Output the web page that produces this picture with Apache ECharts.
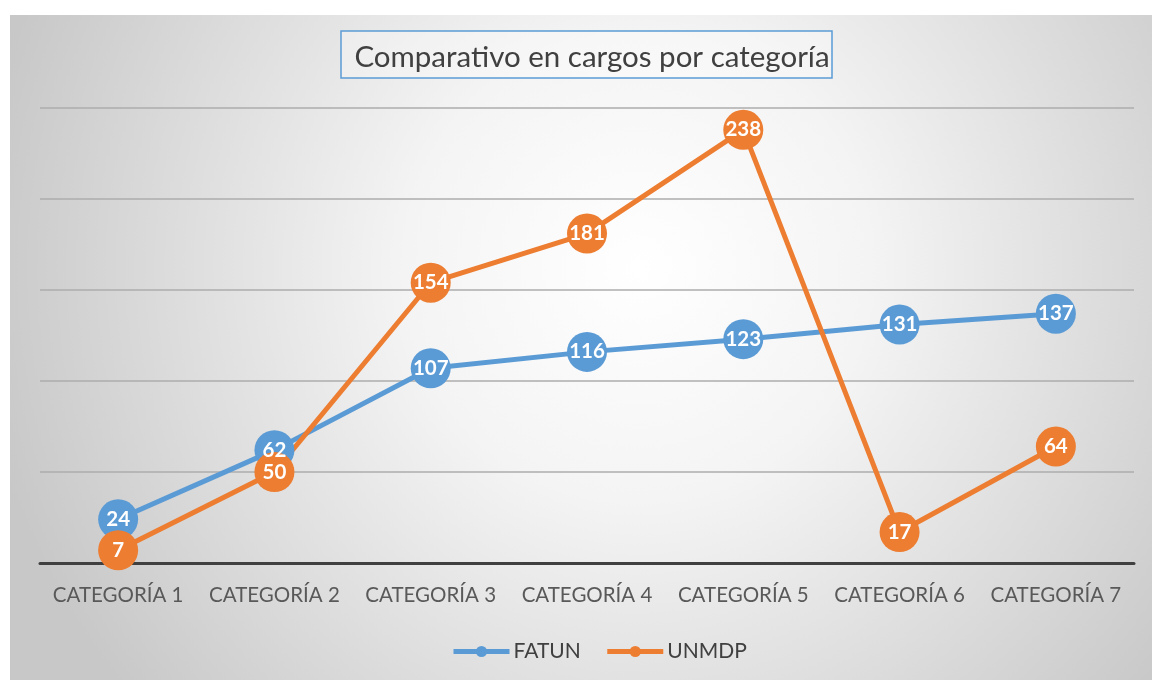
<!DOCTYPE html>
<html>
<head>
<meta charset="utf-8">
<script src="https://cdn.jsdelivr.net/npm/echarts@6/dist/echarts.min.js"></script>
<style>
    html, body { margin: 0; padding: 0; background: #fff; }
    #main { width: 1152px; height: 680px; }
</style>
</head>
<body>
<div id="main"></div>
<script>
var categories = ['CATEGORÍA 1', 'CATEGORÍA 2', 'CATEGORÍA 3', 'CATEGORÍA 4', 'CATEGORÍA 5', 'CATEGORÍA 6', 'CATEGORÍA 7'];
var fatun = [24, 62, 107, 116, 123, 131, 137];
var unmdp = [7, 50, 154, 181, 238, 17, 64];

var myChart = echarts.init(document.getElementById('main'));
var font = 'Lato, "Open Sans", sans-serif';

function lineSeries(name, data, color) {
    return {
        name: name,
        type: 'line',
        data: data,
        symbol: 'circle',
        symbolSize: 40,
        lineStyle: {width: 5, color: color},
        itemStyle: {color: color},
        label: {
            show: true,
            position: 'inside',
            color: '#fff',
            fontWeight: 'bold',
            fontSize: 20.5,
            fontFamily: font
        },
        emphasis: {disabled: true}
    };
}

var option = {
    animation: false,
    graphic: [{
        type: 'rect',
        z: -10,
        shape: {x: 10, y: 15, width: 1142, height: 665},
        style: {
            fill: {
                type: 'radial', x: 0.55, y: 0.38, r: 1.0,
                colorStops: [
                    {offset: 0, color: '#ffffff'},
                    {offset: 0.35, color: '#f4f4f4'},
                    {offset: 1, color: '#c8c8c8'}
                ]
            }
        }
    }, {
        type: 'rect',
        z: 5,
        shape: {x: 341, y: 31, width: 491, height: 47},
        style: {fill: 'rgba(255,255,255,0.3)', stroke: '#5b9bd5', lineWidth: 1.5}
    }],
    title: {
        text: 'Comparativo en cargos por categoría',
        left: 587,
        top: 37,
        textAlign: 'center',
        textStyle: {color: '#404040', fontSize: 29.5, fontWeight: 'normal', fontFamily: font}
    },
    legend: {
        top: 636,
        left: 446,
        itemWidth: 56,
        itemHeight: 14,
        itemGap: 24,
        lineStyle: {width: 5},
        textStyle: {color: '#404040', fontSize: 21, fontFamily: font, padding: [0, 0, 0, -1]},
        data: ['FATUN', 'UNMDP']
    },
    grid: {left: 40, right: 18, top: 108, bottom: 117},
    xAxis: {
        type: 'category',
        data: categories,
        axisLine: {lineStyle: {color: '#404040', width: 3}},
        axisTick: {show: false},
        axisLabel: {color: '#595959', fontSize: 20.5, fontFamily: font, margin: 22, interval: 0}
    },
    yAxis: {
        type: 'value',
        min: 0,
        max: 250,
        interval: 50,
        axisLabel: {show: false},
        axisLine: {show: false},
        axisTick: {show: false},
        splitLine: {lineStyle: {color: '#adadad', width: 1.5}}
    },
    series: [
        lineSeries('FATUN', fatun, '#5b9bd5'),
        lineSeries('UNMDP', unmdp, '#ed7d31')
    ]
};
myChart.setOption(option);
</script>
</body>
</html>
